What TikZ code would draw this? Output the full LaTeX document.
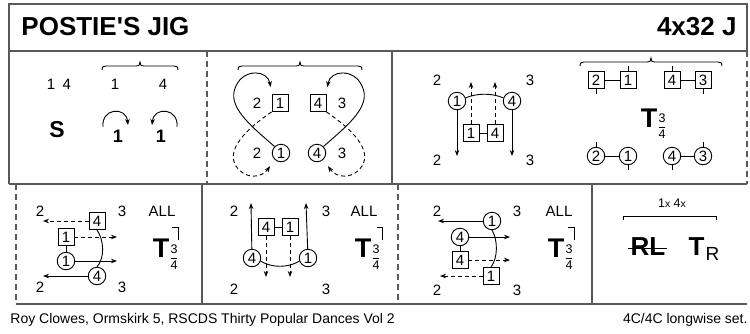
\documentclass[tikz,border=0pt]{standalone}
\usepackage{amsmath}
\usepackage{fontspec}
\setmainfont{Liberation Sans}
\usetikzlibrary{arrows.meta}

% small stacked fraction next to a turn
\newcommand{\frq}[2]{$\genfrac{}{}{0.6pt}{0}{\text{#1}}{\text{#2}}$}
% brace over a group of bars: left x, right x, y
\newcommand{\tiebrace}[3]{%
  \draw (#1,#3+4) .. controls (#1,#3+1) .. (#1+4,#3)
    -- ({(#1+#2)/2-4},#3) .. controls ({(#1+#2)/2-1},#3) .. ({(#1+#2)/2},#3-4)
    .. controls ({(#1+#2)/2+1},#3) .. ({(#1+#2)/2+4},#3)
    -- (#2-4,#3) .. controls (#2,#3+1) .. (#2,#3+4);}

\begin{document}
\begin{tikzpicture}[x=1pt,y=-1pt,line width=0.9pt,
    every node/.style={font=\fontsize{15}{17}\selectfont,inner sep=0pt},
    frame/.style={draw=black!65,line width=1.3pt},
    phrase/.style={draw=black!65,line width=1.3pt,dash pattern=on 6pt off 4pt},
    box/.style={draw,rectangle,minimum width=16pt,minimum height=17pt},
    dancer/.style={draw,circle,minimum size=17.5pt},
    move/.style={-{Stealth[length=6pt,width=4.5pt]}},
    track/.style={move,dash pattern=on 4pt off 3pt},
    tbig/.style={font=\fontsize{27}{27}\selectfont\bfseries},
    frac/.style={font=\fontsize{12.5}{12.5}\selectfont}]
        \useasboundingbox (0,0) rectangle (750,333);
        % frame
        \draw[frame] (9,184) -- (9,4) -- (747,4) -- (747,51);
        \draw[frame] (9,51) -- (747,51);
        \draw[frame] (9,184) -- (747,184);
        \draw[phrase] (207,51) -- (207,184);
        \draw[frame] (392,51) -- (392,184);
        \draw[phrase] (747,51) -- (747,184);
        \draw[phrase] (16,184) -- (16,304);
        \draw[frame] (202,184) -- (202,304);
        \draw[phrase] (398,184) -- (398,304);
        \draw[frame] (592,184) -- (592,304);
        \draw[frame] (16,304) -- (747,304);
        \node[anchor=west,font=\fontsize{26}{26}\selectfont\bfseries] (title) at (21,27) {POSTIE\textquotesingle S JIG};
        \node[anchor=east,font=\fontsize{26}{26}\selectfont\bfseries] (form) at (737,27) {4x32 J};
        \node[anchor=west,font=\fontsize{14}{14}\selectfont] (source) at (10,320) {Roy Clowes, Ormskirk 5, RSCDS Thirty Popular Dances Vol 2};
        \node[anchor=east,font=\fontsize{14}{14}\selectfont] (setup) at (748,320) {4C/4C longwise set.};

        % bars 1-8
        \node(s14) at (59,84) {1\enspace4};
        \node(t1) at (115,84) {1};
        \node(t4) at (163,84) {4};
        \tiebrace{102}{178}{66}
        \node[font=\fontsize{23}{23}\selectfont\bfseries](set) at (57,130) {S};
        \node[font=\fontsize{18}{18}\selectfont\bfseries](turnr) at (118,136) {1};
        \node[font=\fontsize{18}{18}\selectfont\bfseries](turnl) at (161,136) {1};
        \draw[move] (103,127) .. controls (101,108) and (126,106) .. (128,125);
        \draw[move] (177,127) .. controls (179,108) and (154,106) .. (152,125);

        % bars 9-16
        \tiebrace{238}{362}{66}
        \node(f2a) at (257,103) {2};
        \node[box](fb1) at (280,103) {1};
        \node[box](fb4) at (318,103) {4};
        \node(f3a) at (342,103) {3};
        \node(f2b) at (257,153) {2};
        \node[dancer](fc1) at (281,153) {1};
        \node[dancer](fc4) at (317,153) {4};
        \node(f3b) at (342,153) {3};
        \draw[move,shorten >=7pt] (fc1.north west) .. controls (250,125) and (226,106) .. (236,86) .. controls (244,68) and (268,70) .. (fb1.north west);
        \draw[track,shorten >=8pt] (fb1.south west) .. controls (245,130) and (226,150) .. (236,166) .. controls (245,180) and (262,178) .. (fc1.south west);
        \draw[move,shorten >=7pt] (fc4.north east) .. controls (348,125) and (372,106) .. (362,86) .. controls (354,68) and (330,70) .. (fb4.north east);
        \draw[track,shorten >=8pt] (fb4.south east) .. controls (353,130) and (372,150) .. (362,166) .. controls (353,180) and (336,178) .. (fc4.south east);

        % bars 17-24
        \node(g2a) at (437,80) {2};
        \node(g3a) at (530,80) {3};
        \node(g2b) at (437,160) {2};
        \node(g3b) at (530,160) {3};
        \node[dancer](gc1) at (457,101) {1};
        \node[dancer](gc4) at (512,101) {4};
        \node[box](gb1) at (471,133) {1};
        \node[box](gb4) at (495,133) {4};
        \coordinate(gd1) at (457,156);
        \coordinate(gd4) at (512,156);
        \coordinate(gu1) at (471,82);
        \coordinate(gu4) at (495,82);
        \draw (gc1.20) .. controls (477,93) and (492,93) .. (gc4.160);
        \draw[move] (gc1)--(gd1);
        \draw[move] (gc4)--(gd4);
        \draw[track] (gb1)--(gu1);
        \draw[track] (gb4)--(gu4);
        \draw (gb1)--(gb4);
        \tiebrace{580}{722}{62}
        \node[box](p2) at (596,80) {2};
        \node[box](p1) at (628,80) {1};
        \node[box](p4) at (672,80) {4};
        \node[box](p3) at (703,80) {3};
        \draw (p2)--(p1);
        \draw (p4)--(p3);
        \draw (p2.south) -- ++(0,5);
        \draw (p1.north) -- ++(0,-5);
        \draw (p4.north) -- ++(0,-5);
        \draw (p3.south) -- ++(0,5);
        \node[tbig](gT) at (649,118) {T};
        \node[frac](gF) at (662,126) {\frq34};
        \node[dancer](q2) at (596,156) {2};
        \node[dancer](q1) at (628,156) {1};
        \node[dancer](q4) at (672,156) {4};
        \node[dancer](q3) at (703,156) {3};
        \draw (q2)--(q1);
        \draw (q4)--(q3);
        \draw (q2.north) -- ++(0,-5);
        \draw (q1.south) -- ++(0,5);
        \draw (q4.south) -- ++(0,5);
        \draw (q3.north) -- ++(0,-5);

        % bars 25-32, first part
        \node(h2a) at (40,211) {2};
        \node(h3a) at (122,211) {3};
        \node(h2b) at (40,287) {2};
        \node(h3b) at (122,287) {3};
        \node[box](hb4) at (97,221) {4};
        \node[box](hb1) at (66,237) {1};
        \node[dancer](hc1) at (66,261) {1};
        \node[dancer](hc4) at (97,276) {4};
        \coordinate(hw4) at (43,221);
        \coordinate(he1) at (117,237);
        \coordinate(hec1) at (117,261);
        \coordinate(hwc4) at (43,276);
        \draw[track] (hb4)--(hw4);
        \draw[track] (hb1)--(he1);
        \draw (hb1)--(hc1);
        \draw[move] (hc1)--(hec1);
        \draw[move] (hc4)--(hwc4);
        \draw (hb4.south) .. controls (104,240) and (105,258) .. (hc4.north);
        \node(hall) at (162,211) {ALL};
        \draw (172,227) -- (178,227) -- (178,240);
        \node[tbig](hT) at (161,248) {T};
        \node[frac](hF) at (174,257) {\frq34};

        \node(k2a) at (234,211) {2};
        \node(k3a) at (326,211) {3};
        \node(k2b) at (234,289) {2};
        \node(k3b) at (326,289) {3};
        \node[box](kb4) at (266,227) {4};
        \node[box](kb1) at (290,227) {1};
        \node[dancer](kc4) at (252,258) {4};
        \node[dancer](kc1) at (308,258) {1};
        \coordinate(kn4) at (251,203);
        \coordinate(kn1) at (306,203);
        \coordinate(ks4) at (266,277);
        \coordinate(ks1) at (290,277);
        \draw[move] (kc4)--(kn4);
        \draw[move] (kc1)--(kn1);
        \draw[track] (kb4)--(ks4);
        \draw[track] (kb1)--(ks1);
        \draw (kb4)--(kb1);
        \draw (kc4.-20) .. controls (272,268) and (288,268) .. (kc1.200);
        \node(kall) at (364,211) {ALL};
        \draw (377,227) -- (382,227) -- (382,240);
        \node[tbig](kT) at (363,248) {T};
        \node[frac](kF) at (376,257) {\frq34};

        \node(m2a) at (437,211) {2};
        \node(m3a) at (517,211) {3};
        \node(m2b) at (437,290) {2};
        \node(m3b) at (517,290) {3};
        \node[dancer](mc1) at (492,221) {1};
        \node[dancer](mc4) at (460,237) {4};
        \node[box](mb4) at (460,260) {4};
        \node[box](mb1) at (491,276) {1};
        \coordinate(mw1) at (438,221);
        \coordinate(me4) at (510,237);
        \coordinate(meb4) at (510,260);
        \coordinate(mwb1) at (440,276);
        \draw[move] (mc1)--(mw1);
        \draw[move] (mc4)--(me4);
        \draw[track] (mb4)--(meb4);
        \draw[track] (mb1)--(mwb1);
        \draw (mc4)--(mb4);
        \draw (mc1.south) .. controls (498,240) and (498,258) .. (mb1.north);
        \node(mall) at (559,211) {ALL};
        \draw (568,227) -- (574,227) -- (574,240);
        \node[tbig](mT) at (556,248) {T};
        \node[frac](mF) at (569,257) {\frq34};

        % ending
        \node[font=\fontsize{12.5}{12.5}\selectfont](times) at (672,203.5) {1{\fontsize{10.5}{10.5}\selectfont x} 4{\fontsize{10.5}{10.5}\selectfont x}};
        \draw (623,220) -- (623,216) -- (716,216) -- (716,220);
        \node[font=\fontsize{26}{26}\selectfont\bfseries](rl) at (648,247) {RL};
        \draw[line width=1.3pt] ([xshift=-2pt,yshift=-1.5pt]rl.west) -- ([xshift=1pt,yshift=-1.5pt]rl.east);
        \node[font=\fontsize{26}{26}\selectfont\bfseries](tr) at (696.5,247) {T};
        \node[font=\fontsize{19}{19}\selectfont](trR) at (712.5,254) {R};
\end{tikzpicture}
\end{document}
